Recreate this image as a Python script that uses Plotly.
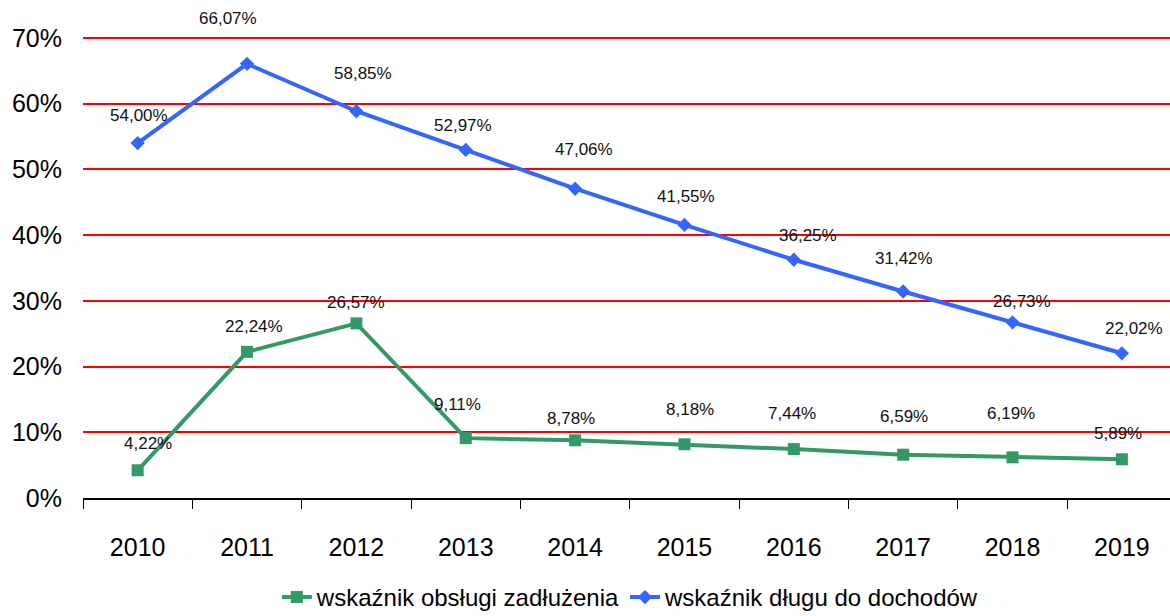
import plotly.graph_objects as go

years = ["2010", "2011", "2012", "2013", "2014", "2015", "2016", "2017", "2018", "2019"]
debt_service = [4.22, 22.24, 26.57, 9.11, 8.78, 8.18, 7.44, 6.59, 6.19, 5.89]
debt_to_income = [54.00, 66.07, 58.85, 52.97, 47.06, 41.55, 36.25, 31.42, 26.73, 22.02]

name_service = "wskaźnik obsługi zadłużenia"
name_income = "wskaźnik długu do dochodów"

GREEN = "#339966"
BLUE = "#3366FF"
FONT = "Liberation Sans, Arial, sans-serif"

# label nudges (pixels) for readability
service_dx = [10, 7, 0, -8, -4, 6, -2, 1, -2, -4]
service_dy = [27, 25, 21, 34, 22, 35, 36, 38, 44, 26]
income_dx = [1, -19, 7, -3, 9, 2, 14, 1, 9, 12]
income_dy = [28, 45, 38, 24, 39, 28, 24, 33, 21, 25]


def fmt(v):
    return f"{v:.2f}".replace(".", ",") + "%"


fig = go.Figure()
fig.add_trace(go.Scatter(
    x=years, y=debt_service, name=name_service, mode="lines+markers",
    line=dict(color=GREEN, width=4),
    marker=dict(symbol="square", size=12, color=GREEN),
    cliponaxis=False,
))
fig.add_trace(go.Scatter(
    x=years, y=debt_to_income, name=name_income, mode="lines+markers",
    line=dict(color=BLUE, width=4),
    marker=dict(symbol="diamond", size=11, color=BLUE),
    cliponaxis=False,
))

# value labels; x given as category index so "2010" is not read as a number
annotations = []
for i in range(len(years)):
    annotations.append(dict(
        x=i, y=debt_service[i], xref="x", yref="y",
        text=fmt(debt_service[i]), showarrow=False,
        xshift=service_dx[i], yshift=service_dy[i],
        font=dict(family=FONT, size=17, color="#111111"),
    ))
    annotations.append(dict(
        x=i, y=debt_to_income[i], xref="x", yref="y",
        text=fmt(debt_to_income[i]), showarrow=False,
        xshift=income_dx[i], yshift=income_dy[i],
        font=dict(family=FONT, size=17, color="#111111"),
    ))

fig.update_layout(
    width=1170, height=616,
    margin=dict(l=83, r=0, t=36, b=118, autoexpand=False),
    paper_bgcolor="white", plot_bgcolor="white",
    font=dict(family=FONT, color="#000000"),
    showlegend=True,
    legend=dict(
        orientation="h", x=0.504, xanchor="center",
        yref="container", y=0.03, yanchor="middle",
        font=dict(family=FONT, size=24), tracegroupgap=0,
    ),
    annotations=annotations,
)
fig.update_xaxes(
    type="category", range=[-0.5, 9.44],
    showgrid=False, showline=True, linecolor="black", linewidth=1.5,
    ticks="outside", tickson="boundaries", ticklen=9, tickcolor="black",
    tickfont=dict(family=FONT, size=25), ticklabelstandoff=26,
)
fig.update_yaxes(
    range=[0, 70.3], dtick=10, ticksuffix="%",
    showgrid=True, gridcolor="#FF0000", gridwidth=1.5,
    zeroline=False, showline=False,
    tickfont=dict(family=FONT, size=25), ticklabelstandoff=20,
)

fig.write_html("out.html")
